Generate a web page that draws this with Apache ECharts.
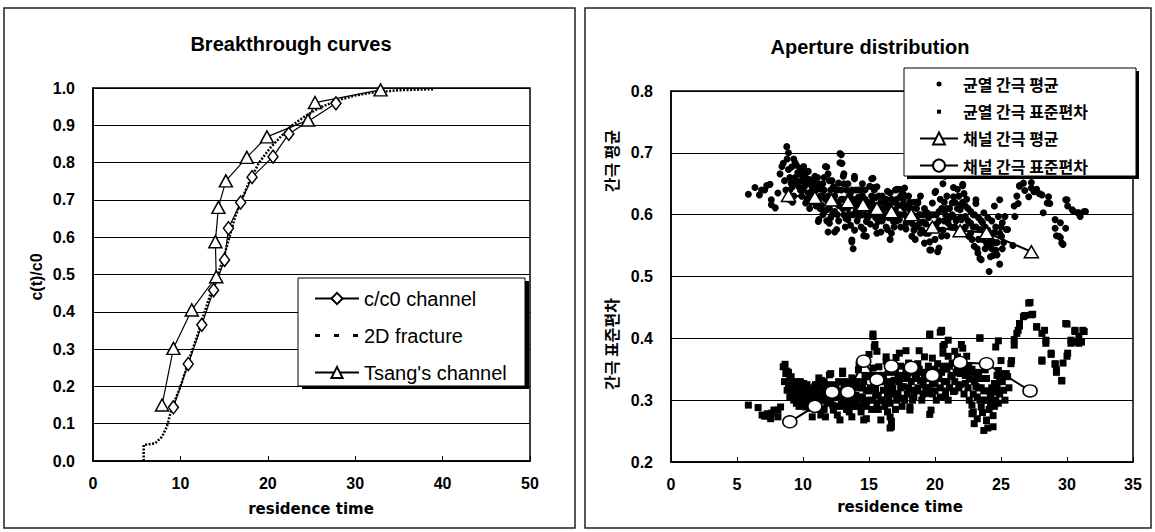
<!DOCTYPE html>
<html><head><meta charset="utf-8">
<script src="https://cdn.jsdelivr.net/npm/echarts@6/dist/echarts.min.js"></script>
<style>html,body{margin:0;padding:0;background:#fff}#c{width:1155px;height:532px}</style>
</head><body><div id="c"></div>
<script>
// ---------- Left chart: Breakthrough curves ----------
const leftXTicks = [0, 10, 20, 30, 40, 50];
const leftYTicks = [0.0, 0.1, 0.2, 0.3, 0.4, 0.5, 0.6, 0.7, 0.8, 0.9, 1.0];
const channelX = [9.2, 10.9, 12.45, 13.8, 15.05, 15.5, 16.9, 18.2, 20.6, 22.4, 27.8];
const channelY = [0.144, 0.26, 0.365, 0.458, 0.539, 0.624, 0.693, 0.761, 0.816, 0.877, 0.959];
const tsangX = [7.9, 9.2, 11.3, 14.1, 14.0, 14.35, 15.2, 17.6, 19.9, 24.6, 25.4, 32.9];
const tsangY = [0.150, 0.302, 0.405, 0.494, 0.588, 0.680, 0.751, 0.814, 0.869, 0.914, 0.961, 0.995];
const fractureX = [5.8, 5.8, 6.4, 7.1, 7.9, 8.45, 8.8, 9.4, 10.0, 10.55, 11.1, 11.9, 12.6, 13.4, 14.3, 15.0, 15.6, 16.2, 17.0, 17.9, 19.0, 20.3, 21.5, 22.8, 24.3, 26.0, 28.0, 30.0, 32.0, 35.0, 39.0];
const fractureY = [0.0, 0.043, 0.045, 0.047, 0.065, 0.092, 0.123, 0.164, 0.199, 0.239, 0.28, 0.333, 0.387, 0.445, 0.5, 0.55, 0.6, 0.65, 0.7, 0.75, 0.8, 0.84, 0.87, 0.9, 0.925, 0.948, 0.967, 0.98, 0.988, 0.994, 0.997];

// ---------- Right chart: Aperture distribution ----------
const rightXTicks = [0, 5, 10, 15, 20, 25, 30, 35];
const rightYTicks = [0.2, 0.3, 0.4, 0.5, 0.6, 0.7, 0.8];
const chanMeanX = [8.9, 10.9, 12.15, 13.4, 14.55, 15.6, 16.7, 18.2, 19.8, 21.9, 23.9, 27.3];
const chanMeanY = [0.631, 0.628, 0.624, 0.621, 0.616, 0.610, 0.605, 0.600, 0.580, 0.574, 0.571, 0.540];
const chanStdX = [9.0, 10.9, 12.2, 13.4, 14.6, 15.6, 16.7, 18.2, 19.8, 21.9, 23.9, 27.2];
const chanStdY = [0.265, 0.290, 0.313, 0.313, 0.363, 0.333, 0.355, 0.353, 0.340, 0.361, 0.359, 0.315];
const fracMean = [[5.86,0.633],[6.36,0.644],[6.7,0.632],[6.86,0.640],[7.1,0.640],[7.25,0.647],[7.5,0.649],[7.6,0.616],[7.6,0.624],[7.9,0.611],[8.1,0.635],[8.26,0.666],[8.4,0.678],[8.5,0.683],[8.6,0.655],[8.77,0.710],[8.9,0.700],[8.8,0.690],[8.9,0.673],[9.0,0.660],[9.1,0.651],[9.14,0.677],[9.3,0.690],[9.4,0.684],[9.5,0.680],[9.6,0.668],[9.75,0.666],[9.8,0.640],[9.9,0.655],[10.05,0.678],[10.15,0.669],[10.2,0.619],[10.3,0.650],[10.4,0.635],[10.5,0.657],[10.6,0.635],[10.7,0.640],[10.9,0.662],[11.0,0.616],[11.0,0.614],[11.16,0.589],[11.2,0.592],[11.3,0.630],[11.4,0.641],[11.5,0.650],[11.6,0.605],[11.7,0.678],[11.8,0.677],[11.8,0.608],[11.8,0.590],[11.9,0.666],[11.9,0.572],[12.0,0.586],[12.1,0.640],[12.2,0.625],[12.3,0.619],[12.4,0.572],[12.5,0.640],[12.55,0.576],[12.6,0.600],[12.7,0.651],[12.8,0.684],[12.8,0.699],[12.9,0.697],[12.95,0.683],[13.0,0.610],[13.05,0.662],[13.1,0.666],[13.2,0.614],[13.25,0.594],[13.4,0.592],[13.5,0.630],[13.6,0.583],[13.6,0.635],[13.7,0.556],[13.7,0.559],[13.8,0.545],[13.9,0.658],[13.9,0.662],[14.0,0.605],[14.1,0.619],[14.2,0.628],[14.2,0.597],[14.35,0.640],[14.45,0.600],[14.5,0.630],[14.6,0.566],[14.6,0.576],[14.8,0.589],[14.8,0.565],[14.9,0.620],[15.05,0.646],[15.2,0.658],[15.3,0.644],[15.3,0.659],[15.3,0.608],[15.5,0.628],[15.5,0.581],[15.7,0.589],[15.75,0.630],[15.9,0.572],[15.9,0.597],[16.1,0.610],[16.2,0.619],[16.4,0.638],[16.4,0.576],[16.6,0.560],[16.6,0.635],[16.7,0.570],[16.85,0.589],[17.0,0.608],[17.1,0.625],[17.1,0.641],[17.3,0.641],[17.3,0.592],[17.5,0.615],[17.6,0.633],[17.6,0.624],[17.7,0.643],[17.8,0.577],[17.8,0.586],[18.1,0.608],[18.2,0.610],[18.25,0.565],[18.5,0.560],[18.5,0.597],[18.7,0.621],[18.7,0.619],[18.9,0.570],[19.1,0.588],[19.2,0.554],[19.4,0.603],[19.6,0.556],[19.6,0.543],[19.7,0.543],[19.8,0.619],[20.0,0.636],[20.05,0.638],[20.2,0.576],[20.2,0.540],[20.3,0.546],[20.5,0.610],[20.6,0.650],[20.6,0.608],[20.7,0.620],[20.75,0.662],[20.9,0.566],[20.9,0.630],[21.0,0.586],[21.0,0.594],[21.3,0.619],[21.4,0.629],[21.4,0.644],[21.4,0.597],[21.7,0.641],[21.9,0.608],[21.9,0.616],[22.0,0.592],[22.1,0.647],[22.1,0.649],[22.2,0.634],[22.3,0.597],[22.3,0.614],[22.55,0.565],[22.7,0.586],[22.8,0.560],[22.97,0.549],[23.1,0.618],[23.1,0.624],[23.2,0.545],[23.25,0.538],[23.4,0.529],[23.4,0.576],[23.5,0.527],[23.6,0.587],[23.7,0.603],[23.9,0.566],[23.9,0.554],[24.1,0.550],[24.1,0.508],[24.2,0.532],[24.4,0.534],[24.4,0.570],[24.5,0.571],[24.5,0.614],[24.6,0.543],[24.8,0.597],[24.9,0.624],[25.05,0.565],[25.1,0.587],[25.3,0.597],[25.4,0.576],[25.5,0.576],[25.9,0.550],[26.0,0.614],[26.05,0.597],[26.2,0.630],[26.3,0.618],[26.4,0.647],[26.4,0.646],[26.7,0.651],[26.8,0.639],[27.0,0.668],[27.1,0.629],[27.3,0.652],[27.3,0.643],[27.5,0.637],[27.7,0.641],[27.9,0.634],[28.1,0.632],[28.2,0.603],[28.5,0.619],[28.6,0.629],[28.7,0.618],[29.1,0.592],[29.1,0.578],[29.2,0.566],[29.4,0.565],[29.5,0.587],[29.5,0.563],[29.6,0.554],[29.7,0.552],[29.9,0.578],[29.9,0.624],[30.0,0.624],[30.05,0.614],[30.4,0.608],[30.5,0.605],[30.8,0.603],[30.9,0.603],[31.0,0.597],[31.3,0.605],[31.4,0.605],
[8.7,0.640],[8.9,0.625],[9.2,0.645],[9.3,0.630],[9.5,0.655],[9.7,0.645],[9.9,0.630],[10.0,0.660],[10.1,0.645],[10.3,0.625],[10.5,0.610],[10.6,0.648],[10.8,0.630],[10.9,0.645],[11.1,0.660],[11.2,0.625],[11.4,0.615],[11.5,0.600],[11.6,0.640],[11.7,0.625],[12.0,0.655],[12.0,0.610],[12.2,0.600],[12.3,0.645],[12.4,0.630],[12.6,0.620],[12.7,0.590],[12.9,0.640],[13.0,0.625],[13.1,0.650],[13.2,0.580],[13.3,0.640],[13.4,0.610],[13.5,0.600],[13.6,0.615],[13.8,0.625],[13.8,0.600],[13.9,0.575],[14.0,0.640],[14.1,0.590],[14.3,0.610],[14.4,0.580],[14.5,0.650],[14.7,0.600],[14.7,0.625],[14.9,0.595],[15.0,0.610],[15.1,0.585],[15.2,0.630],[15.4,0.600],[15.4,0.615],[15.6,0.645],[15.6,0.570],[15.8,0.610],[16.0,0.590],[16.0,0.630],[16.2,0.600],[16.3,0.580],[16.5,0.615],[16.5,0.595],[16.7,0.625],[16.8,0.605],[16.9,0.580],[17.0,0.640],[17.2,0.600],[17.4,0.580],[17.4,0.630],[17.7,0.600],[17.9,0.615],[18.0,0.590],[18.0,0.630],[18.3,0.585],[18.4,0.620],[18.6,0.580],[18.8,0.600],[18.9,0.630],[19.0,0.575],[19.2,0.610],[19.3,0.585],[19.5,0.570],[19.7,0.600],[19.9,0.580],[20.0,0.560],[20.1,0.600],[20.3,0.590],[20.4,0.625],[20.6,0.575],[20.8,0.600],[21.1,0.610],[21.2,0.580],[21.5,0.620],[21.6,0.590],[21.8,0.630],[22.0,0.570],[22.4,0.625],[22.5,0.590],[22.7,0.605],[22.9,0.580],[23.0,0.600],[23.3,0.560],[23.5,0.590],[23.8,0.580],[24.0,0.595],[24.2,0.560],[24.3,0.545],[24.6,0.580],[24.7,0.555],[24.9,0.520],[25.0,0.580],[25.2,0.555],
[9.0,0.640],[9.2,0.620],[9.4,0.660],[9.6,0.650],[9.8,0.675],[10.0,0.640],[10.2,0.660],[10.4,0.670],[10.6,0.620],[10.8,0.655],[11.0,0.640],[11.2,0.650],[11.3,0.610],[11.5,0.630],[11.6,0.660],[11.9,0.630],[12.1,0.595],[12.2,0.655],[12.4,0.605],[12.6,0.640],[12.7,0.615],[12.9,0.625],[13.1,0.600],[13.3,0.625],[13.4,0.650],[13.6,0.600],[13.7,0.640],[13.9,0.615],[14.1,0.605],[14.2,0.640],[14.4,0.620],[14.6,0.600],[14.7,0.640],[14.9,0.610],[15.1,0.600],[15.2,0.620],[15.4,0.640],[15.5,0.595],[15.7,0.610],[15.9,0.620],[16.1,0.595],[16.3,0.625],[16.4,0.600],[16.6,0.610],[16.8,0.595],[16.9,0.620],[17.1,0.590],[17.2,0.615],[17.4,0.600],[17.5,0.640],[17.7,0.610],[17.9,0.595],[18.1,0.620],[18.3,0.600],[18.4,0.575],[18.6,0.610],[18.8,0.585],[18.9,0.600],[19.1,0.600],[19.3,0.570],[19.5,0.595],[19.7,0.580],[19.9,0.600],[20.1,0.585],[20.3,0.605],[20.5,0.565],[20.7,0.590],[20.9,0.610],[21.1,0.595],[21.3,0.600],[21.5,0.580],[21.7,0.610],[21.9,0.595],[22.1,0.620],[22.3,0.580],[22.5,0.610],[22.7,0.570],[22.9,0.600],[23.1,0.580],[23.3,0.595],[23.6,0.560],[23.8,0.545],[24.0,0.575],[24.3,0.590],[24.5,0.555],[24.7,0.535],[24.9,0.570],[25.1,0.545]];
const fracStd = [[5.86,0.292],[6.6,0.288],[6.9,0.276],[7.1,0.274],[7.3,0.278],[7.55,0.270],[7.6,0.279],[7.8,0.284],[8.1,0.273],[8.1,0.284],[8.3,0.289],[8.5,0.354],[8.64,0.358],[8.7,0.343],[8.77,0.347],[8.8,0.316],[9.0,0.336],[9.1,0.338],[9.3,0.325],[9.4,0.322],[9.5,0.295],[9.55,0.314],[9.8,0.311],[9.8,0.330],[9.95,0.297],[10.05,0.327],[10.2,0.289],[10.3,0.308],[10.5,0.305],[10.55,0.287],[10.7,0.273],[10.9,0.322],[10.95,0.325],[11.2,0.295],[11.2,0.336],[11.35,0.276],[11.4,0.332],[11.7,0.273],[11.7,0.308],[11.9,0.311],[12.0,0.341],[12.1,0.343],[12.25,0.292],[12.3,0.284],[12.55,0.305],[12.6,0.276],[12.8,0.268],[13.0,0.343],[13.0,0.347],[13.2,0.297],[13.25,0.295],[13.5,0.327],[13.5,0.281],[13.7,0.273],[13.7,0.336],[13.9,0.305],[14.0,0.308],[14.2,0.349],[14.25,0.358],[14.4,0.289],[14.4,0.281],[14.6,0.268],[14.8,0.316],[14.8,0.270],[15.0,0.374],[15.05,0.338],[15.3,0.403],[15.3,0.352],[15.3,0.407],[15.4,0.386],[15.45,0.390],[15.6,0.379],[15.6,0.295],[15.7,0.308],[15.75,0.354],[15.9,0.268],[15.9,0.330],[16.1,0.316],[16.3,0.370],[16.3,0.363],[16.4,0.281],[16.6,0.273],[16.6,0.255],[16.7,0.257],[16.7,0.266],[16.9,0.332],[17.05,0.369],[17.1,0.300],[17.3,0.376],[17.3,0.330],[17.6,0.322],[17.6,0.303],[17.8,0.349],[17.8,0.380],[18.1,0.289],[18.1,0.284],[18.4,0.316],[18.45,0.352],[18.7,0.359],[18.8,0.380],[18.9,0.332],[19.1,0.325],[19.2,0.370],[19.5,0.311],[19.6,0.405],[19.6,0.407],[19.6,0.277],[19.7,0.284],[19.8,0.368],[20.0,0.327],[20.2,0.359],[20.4,0.410],[20.5,0.411],[20.5,0.413],[20.6,0.376],[20.6,0.387],[20.7,0.390],[20.8,0.305],[20.8,0.315],[21.0,0.397],[21.0,0.371],[21.1,0.355],[21.2,0.338],[21.4,0.314],[21.5,0.379],[21.7,0.370],[21.9,0.343],[22.0,0.390],[22.1,0.384],[22.2,0.350],[22.3,0.327],[22.4,0.371],[22.55,0.354],[22.6,0.334],[22.8,0.278],[22.8,0.292],[22.9,0.281],[22.97,0.262],[23.1,0.322],[23.2,0.270],[23.4,0.400],[23.4,0.401],[23.4,0.300],[23.5,0.289],[23.6,0.280],[23.7,0.251],[23.8,0.349],[23.9,0.268],[23.9,0.267],[24.0,0.255],[24.2,0.305],[24.2,0.292],[24.4,0.257],[24.5,0.327],[24.5,0.313],[24.6,0.386],[24.8,0.295],[24.8,0.396],[24.8,0.348],[25.0,0.343],[25.0,0.364],[25.2,0.316],[25.4,0.343],[25.5,0.338],[25.75,0.359],[25.8,0.364],[26.0,0.389],[26.0,0.398],[26.2,0.408],[26.3,0.413],[26.4,0.424],[26.4,0.420],[26.7,0.435],[26.8,0.437],[27.1,0.457],[27.2,0.458],[27.3,0.438],[27.4,0.439],[27.7,0.419],[27.7,0.418],[28.1,0.408],[28.1,0.365],[28.1,0.363],[28.3,0.413],[28.4,0.397],[28.4,0.392],[28.8,0.376],[28.8,0.374],[29.1,0.359],[29.1,0.358],[29.2,0.349],[29.2,0.345],[29.6,0.332],[29.6,0.331],[29.7,0.360],[29.9,0.424],[30.0,0.423],[30.0,0.371],[30.05,0.376],[30.3,0.397],[30.3,0.392],[30.6,0.411],[30.6,0.413],[30.7,0.394],[30.9,0.403],[30.9,0.392],[31.1,0.394],[31.2,0.413],[31.3,0.411],
[8.6,0.330],[8.9,0.325],[9.0,0.305],[9.2,0.315],[9.3,0.300],[9.6,0.325],[9.7,0.290],[9.9,0.315],[10.1,0.300],[10.2,0.320],[10.4,0.295],[10.6,0.315],[10.8,0.300],[11.0,0.310],[11.1,0.285],[11.3,0.320],[11.5,0.300],[11.6,0.285],[11.8,0.325],[12.0,0.300],[12.2,0.320],[12.4,0.310],[12.5,0.290],[12.7,0.330],[12.9,0.300],[13.1,0.320],[13.3,0.285],[13.4,0.310],[13.6,0.300],[13.8,0.320],[14.0,0.290],[14.1,0.330],[14.3,0.305],[14.5,0.320],[14.6,0.295],[14.7,0.340],[14.9,0.300],[15.1,0.320],[15.2,0.285],[15.4,0.330],[15.5,0.310],[15.7,0.285],[15.8,0.340],[16.0,0.300],[16.2,0.330],[16.4,0.310],[16.5,0.345],[16.6,0.295],[16.8,0.320],[17.0,0.345],[17.2,0.310],[17.4,0.355],[17.5,0.290],[17.7,0.335],[17.9,0.310],[18.0,0.360],[18.2,0.330],[18.3,0.300],[18.5,0.340],[18.6,0.315],[18.8,0.350],[19.0,0.300],[19.2,0.340],[19.3,0.320],[19.5,0.355],[19.8,0.310],[20.0,0.350],[20.1,0.300],[20.3,0.340],[20.4,0.320],[20.6,0.355],[20.9,0.330],[21.0,0.300],[21.3,0.360],[21.5,0.330],[21.6,0.345],[21.8,0.320],[22.0,0.355],[22.2,0.310],[22.4,0.340],[22.6,0.300],[22.8,0.350],[23.0,0.330],[23.2,0.305],[23.3,0.345],[23.5,0.320],[23.7,0.300],[23.9,0.335],[24.1,0.285],[24.3,0.320],[24.4,0.275],[24.6,0.300],[24.7,0.340],[24.9,0.310],[25.1,0.330],[25.3,0.300],[25.6,0.320],
[8.9,0.345],[9.1,0.320],[9.3,0.310],[9.5,0.330],[9.7,0.305],[9.9,0.325],[10.0,0.310],[10.3,0.325],[10.4,0.310],[10.6,0.300],[10.8,0.320],[11.0,0.295],[11.1,0.325],[11.3,0.305],[11.5,0.315],[11.6,0.330],[11.8,0.295],[12.0,0.315],[12.1,0.300],[12.3,0.325],[12.5,0.320],[12.7,0.305],[12.8,0.290],[13.0,0.315],[13.2,0.330],[13.4,0.295],[13.6,0.315],[13.8,0.290],[13.9,0.325],[14.1,0.300],[14.3,0.320],[14.5,0.305],[14.6,0.330],[14.8,0.290],[15.0,0.315],[15.2,0.340],[15.3,0.300],[15.5,0.320],[15.7,0.340],[15.9,0.300],[16.1,0.340],[16.2,0.290],[16.4,0.320],[16.5,0.300],[16.7,0.330],[16.9,0.310],[17.0,0.285],[17.2,0.340],[17.4,0.320],[17.5,0.340],[17.7,0.300],[17.9,0.340],[18.0,0.320],[18.2,0.345],[18.4,0.305],[18.6,0.335],[18.7,0.320],[18.9,0.345],[19.1,0.310],[19.3,0.335],[19.4,0.345],[19.6,0.320],[19.8,0.330],[20.0,0.315],[20.2,0.335],[20.4,0.305],[20.5,0.345],[20.7,0.330],[20.9,0.350],[21.1,0.320],[21.3,0.340],[21.5,0.315],[21.7,0.350],[21.9,0.325],[22.1,0.345],[22.3,0.340],[22.5,0.320],[22.7,0.345],[22.9,0.310],[23.1,0.340],[23.3,0.320],[23.5,0.335],[23.7,0.315],[23.9,0.300],[24.1,0.315],[24.3,0.300],[24.5,0.290],[24.7,0.320],[24.9,0.330],[25.2,0.340]];

const zip = (xs, ys) => xs.map((x, i) => [x, ys[i]]);
const LAT = '"Liberation Sans", Arial, sans-serif';
const KR = '"Noto Sans CJK KR", sans-serif';
const BLACK = '#000';

function xAxisCfg(grid, ticks) {
  return {
    gridIndex: grid, type: 'value', min: ticks[0], max: ticks[ticks.length - 1],
    interval: ticks[1] - ticks[0],
    axisLine: { show: true, lineStyle: { color: BLACK, width: 1.5 } },
    axisTick: { show: true, inside: true, length: 5, lineStyle: { color: BLACK, width: 1 } },
    axisLabel: { color: BLACK, fontSize: 16, fontWeight: 'bold', fontFamily: LAT, margin: 14 },
    splitLine: { show: false }
  };
}
function yAxisCfg(grid, ticks) {
  return {
    gridIndex: grid, type: 'value', min: ticks[0], max: ticks[ticks.length - 1],
    interval: +(ticks[1] - ticks[0]).toFixed(2),
    axisLine: { show: true, lineStyle: { color: BLACK, width: 1.5 } },
    axisTick: { show: false },
    axisLabel: { color: BLACK, fontSize: 16, fontWeight: 'bold', fontFamily: LAT, margin: 18,
                 formatter: v => v.toFixed(1) },
    splitLine: { show: true, lineStyle: { color: BLACK, width: 1.2 } }
  };
}
const openMarker = { color: '#fff', borderColor: BLACK, borderWidth: 1.5, opacity: 1 };
const centered = { fill: BLACK, align: 'center', verticalAlign: 'middle', textAlign: 'center', textVerticalAlign: 'middle' };

const chart = echarts.init(document.getElementById('c'), null, { renderer: 'svg', width: 1155, height: 532 });
chart.setOption({
  animation: false,
  backgroundColor: '#fff',
  grid: [
    { left: 93, top: 88, width: 437, height: 373, show: true, borderColor: BLACK, borderWidth: 1.5, backgroundColor: 'transparent' },
    { left: 671, top: 91, width: 462, height: 371, show: true, borderColor: BLACK, borderWidth: 1.5, backgroundColor: 'transparent' }
  ],
  xAxis: [xAxisCfg(0, leftXTicks), xAxisCfg(1, rightXTicks)],
  yAxis: [yAxisCfg(0, leftYTicks), yAxisCfg(1, rightYTicks)],
  legend: [
    {
      left: 314, top: 288.5, orient: 'vertical', padding: 0, itemWidth: 44, itemHeight: 14, itemGap: 17,
      selectedMode: false, z: 10,
      textStyle: { color: BLACK, fontSize: 20, fontFamily: LAT },
      data: [
        { name: 'c/c0 channel' },
        { name: '2D fracture', icon: 'path://M0 0M44 14M0 5.5h5v3h-5zM19 5.5h5v3h-5zM38 5.5h5v3h-5z' },
        { name: "Tsang's channel" }
      ]
    },
    {
      left: 919, top: 76, orient: 'vertical', padding: 0, itemWidth: 38, itemHeight: 15, itemGap: 11.2,
      selectedMode: false, z: 10,
      textStyle: { color: BLACK, fontSize: 16, fontWeight: 'bold', fontFamily: KR },
      data: [
        { name: '균열 간극 평균', icon: 'path://M0 0M38 15M16.5 7.5a2.5 2.5 0 1 0 5 0a2.5 2.5 0 1 0 -5 0z' },
        { name: '균열 간극 표준편차', icon: 'path://M0 0M38 15M17 6h4v4h-4z' },
        { name: '채널 간극 평균' },
        { name: '채널 간극 표준편차' }
      ]
    }
  ],
  graphic: [
    { type: 'rect', silent: true, z: 0, shape: { x: 4, y: 8, width: 571, height: 520 }, style: { fill: 'none', stroke: '#222', lineWidth: 1.5 } },
    { type: 'rect', silent: true, z: 0, shape: { x: 585, y: 8, width: 566, height: 520 }, style: { fill: 'none', stroke: '#222', lineWidth: 1.5 } },
    { type: 'rect', silent: true, z: 5, shape: { x: 302, y: 281, width: 227, height: 108 }, style: { fill: BLACK } },
    { type: 'rect', silent: true, z: 6, shape: { x: 298, y: 278, width: 227, height: 108 }, style: { fill: '#fff', stroke: BLACK, lineWidth: 1 } },
    { type: 'rect', silent: true, z: 5, shape: { x: 907, y: 71, width: 232, height: 108 }, style: { fill: BLACK } },
    { type: 'rect', silent: true, z: 6, shape: { x: 904, y: 68, width: 232, height: 108 }, style: { fill: '#fff', stroke: BLACK, lineWidth: 1 } },
    { type: 'text', silent: true, z: 10, x: 291, y: 44, style: Object.assign({ text: 'Breakthrough curves', font: 'bold 20px ' + LAT }, centered) },
    { type: 'text', silent: true, z: 10, x: 870, y: 47, style: Object.assign({ text: 'Aperture distribution', font: 'bold 20px ' + LAT }, centered) },
    { type: 'text', silent: true, z: 10, x: 311, y: 509, style: Object.assign({ text: 'residence time', font: 'bold 15px "DejaVu Sans", sans-serif' }, centered) },
    { type: 'text', silent: true, z: 10, x: 900, y: 507, style: Object.assign({ text: 'residence time', font: 'bold 15px "DejaVu Sans", sans-serif' }, centered) },
    { type: 'text', silent: true, z: 10, x: 36, y: 277, rotation: Math.PI / 2, style: Object.assign({ text: 'c(t)/c0', font: 'bold 16px ' + LAT }, centered) },
    { type: 'text', silent: true, z: 10, x: 611, y: 161, rotation: Math.PI / 2, style: Object.assign({ text: '간극 평균', font: 'bold 16px ' + KR }, centered) },
    { type: 'text', silent: true, z: 10, x: 611, y: 344, rotation: Math.PI / 2, style: Object.assign({ text: '간극 표준편차', font: 'bold 16px ' + KR }, centered) }
  ],
  series: [
    { name: '2D fracture', type: 'line', xAxisIndex: 0, yAxisIndex: 0, z: 2, data: zip(fractureX, fractureY),
      symbol: 'none', lineStyle: { color: BLACK, width: 2.5, type: [2, 1.5] }, itemStyle: { color: BLACK } },
    { name: 'c/c0 channel', type: 'line', xAxisIndex: 0, yAxisIndex: 0, z: 3, data: zip(channelX, channelY),
      symbol: 'diamond', symbolSize: [10, 13], lineStyle: { color: BLACK, width: 1.2 }, itemStyle: openMarker },
    { name: "Tsang's channel", type: 'line', xAxisIndex: 0, yAxisIndex: 0, z: 3, data: zip(tsangX, tsangY),
      symbol: 'triangle', symbolSize: [13, 12], lineStyle: { color: BLACK, width: 1.2 }, itemStyle: openMarker },
    { name: '균열 간극 평균', type: 'scatter', xAxisIndex: 1, yAxisIndex: 1, z: 2, data: fracMean,
      symbol: 'circle', symbolSize: 7, itemStyle: { color: BLACK, opacity: 1 } },
    { name: '균열 간극 표준편차', type: 'scatter', xAxisIndex: 1, yAxisIndex: 1, z: 2, data: fracStd,
      symbol: 'rect', symbolSize: 7, itemStyle: { color: BLACK, opacity: 1 } },
    { name: '채널 간극 평균', type: 'line', xAxisIndex: 1, yAxisIndex: 1, z: 4, data: zip(chanMeanX, chanMeanY),
      symbol: 'triangle', symbolSize: [14, 12], lineStyle: { color: BLACK, width: 2 }, itemStyle: openMarker },
    { name: '채널 간극 표준편차', type: 'line', xAxisIndex: 1, yAxisIndex: 1, z: 4, data: zip(chanStdX, chanStdY),
      symbol: 'circle', symbolSize: [14, 12], lineStyle: { color: BLACK, width: 2 }, itemStyle: openMarker }
  ]
});
</script></body></html>
